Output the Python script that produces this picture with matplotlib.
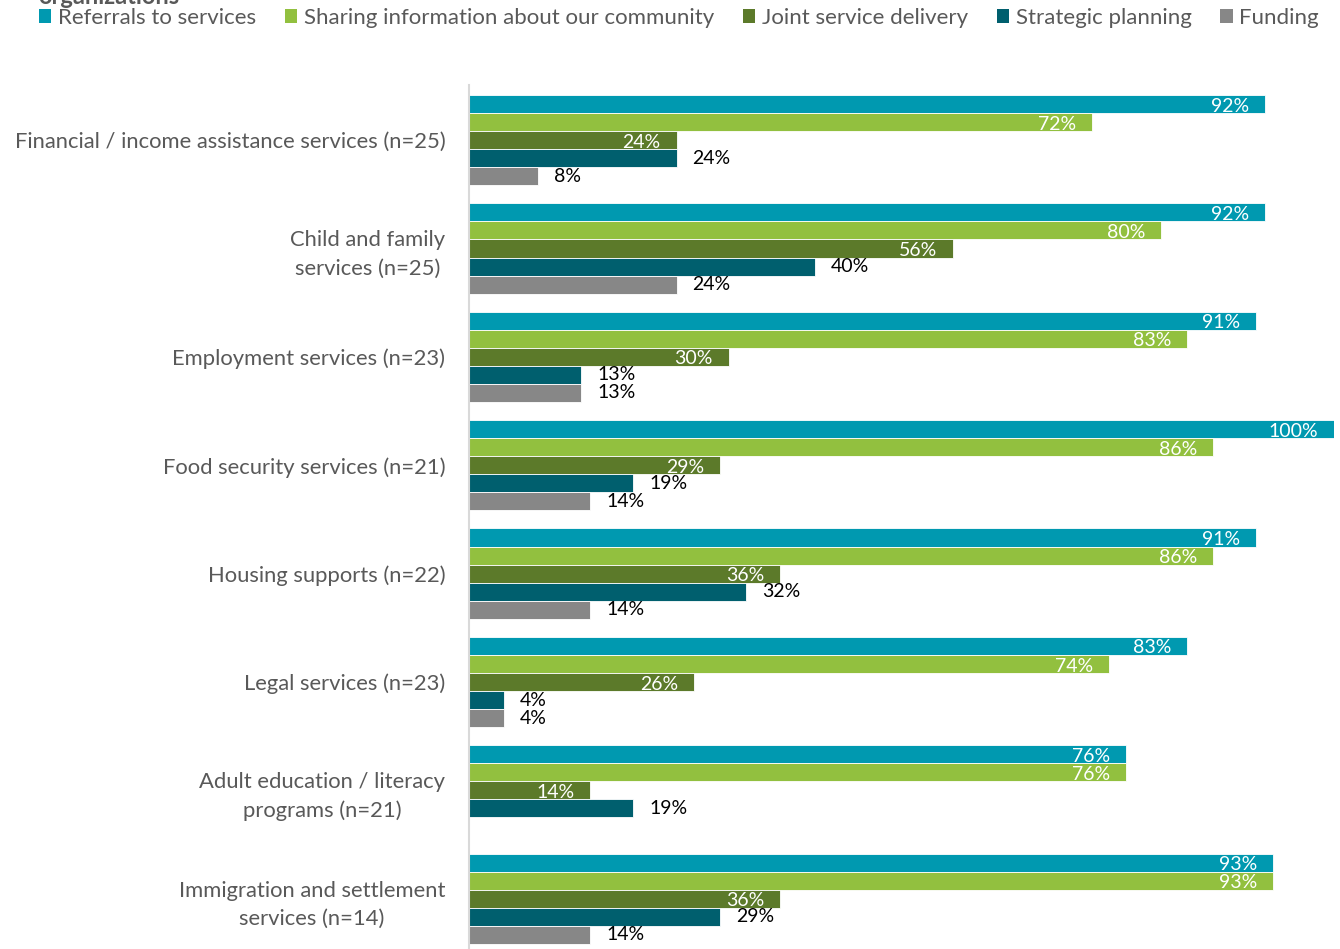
import matplotlib.pyplot as plt
from matplotlib.patches import Patch

plt.rcParams['font.family'] = ['Lato', 'DejaVu Sans']

categories = [
    "Financial / income assistance services (n=25)",
    "Child and family\nservices (n=25)",
    "Employment services (n=23)",
    "Food security services (n=21)",
    "Housing supports (n=22)",
    "Legal services (n=23)",
    "Adult education / literacy\nprograms (n=21)",
    "Immigration and settlement\nservices (n=14)",
]
series_names = ["Referrals to services", "Sharing information about our community",
                "Joint service delivery", "Strategic planning", "Funding"]
referrals = [92, 92, 91, 100, 91, 83, 76, 93]
sharing = [72, 80, 83, 86, 86, 74, 76, 93]
joint = [24, 56, 30, 29, 36, 26, 14, 36]
strategic = [24, 40, 13, 19, 32, 4, 19, 29]
funding = [8, 24, 13, 14, 14, 4, None, 14]

series = [referrals, sharing, joint, strategic, funding]
colors = ["#0099B0", "#92C03F", "#5C7A2A", "#005F6E", "#878787"]
label_inside = [True, True, True, False, False]

fig = plt.figure(figsize=(13.4, 9.49), dpi=100)
ax = fig.add_axes([469 / 1340, 0, 865 / 1340, 1 - 85 / 949])

per_group = len(series) + 1
for j, (vals, col, inside) in enumerate(zip(series, colors, label_inside)):
    for g, v in enumerate(vals):
        if v is None:
            continue
        y = g * per_group + j
        ax.barh(y, v, height=1.0, color=col, edgecolor='white', linewidth=0.6)
        if inside:
            ax.annotate(f"{v}%", (v, y), xytext=(-11.5, -1.5), textcoords='offset points',
                        ha='right', va='center', color='white', fontsize=14)
        else:
            ax.annotate(f"{v}%", (v, y), xytext=(11.5, 0), textcoords='offset points',
                        ha='left', va='center', color='black', fontsize=14)

ax.set_xlim(0, 100)
ax.set_ylim(46.78, -1.05)
ax.set_yticks([g * per_group + 2 for g in range(len(categories))])
ax.set_yticklabels(categories, fontsize=15.8, color='#595959', multialignment='center',
                   linespacing=1.5)
ax.tick_params(axis='y', length=0, pad=17)
ax.set_xticks([])
for s in ['top', 'right', 'bottom']:
    ax.spines[s].set_visible(False)
ax.spines['left'].set_color('#D9D9D9')
ax.spines['left'].set_linewidth(1.5)

handles = [Patch(facecolor=c, edgecolor='none') for c in colors]
fig.legend(handles, series_names, loc='center left', bbox_to_anchor=(39 / 1340, 1 - 18 / 949),
           ncol=5, frameon=False, fontsize=16, labelcolor='#595959',
           handlelength=0.55, handleheight=0.55, handletextpad=0.3, columnspacing=1.3,
           borderaxespad=0, borderpad=0)

fig.text(38 / 1340, 1 - 4 / 949, "organizations", fontsize=17, fontweight='bold',
         color='#595959', ha='left', va='baseline')

fig.savefig("out.png", dpi=100)
